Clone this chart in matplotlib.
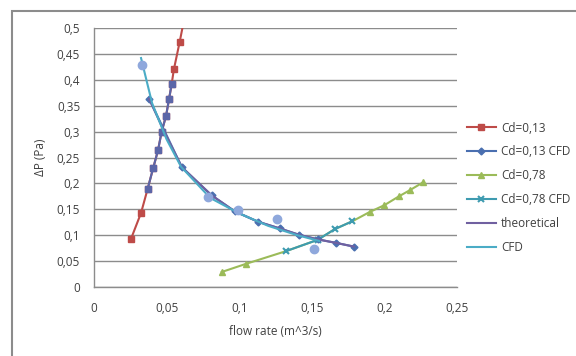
import matplotlib
matplotlib.use("Agg")
import matplotlib.pyplot as plt
from matplotlib.patches import Rectangle

# ---- data ----
cd013_x = [0.0255, 0.0324, 0.0370, 0.0407, 0.0441, 0.0466, 0.0496, 0.0517, 0.0535, 0.0550, 0.0590, 0.0630]
cd013_y = [0.093, 0.143, 0.190, 0.229, 0.264, 0.300, 0.330, 0.363, 0.392, 0.420, 0.473, 0.530]

sq_x = [0.0370, 0.0407, 0.0441, 0.0466, 0.0496, 0.0517, 0.0535]
sq_y = [0.190, 0.229, 0.264, 0.300, 0.330, 0.363, 0.392]

cd013cfd_x = [0.0380, 0.0606, 0.0810, 0.0970, 0.1130, 0.1280, 0.1410, 0.1540, 0.1670, 0.1790]
cd013cfd_y = [0.363, 0.231, 0.177, 0.146, 0.126, 0.113, 0.101, 0.092, 0.085, 0.078]

cd078_x = [0.0880, 0.1050, 0.1320, 0.1540, 0.1660, 0.1780, 0.1900, 0.2000, 0.2100, 0.2176, 0.2266]
cd078_y = [0.029, 0.045, 0.069, 0.091, 0.112, 0.127, 0.145, 0.158, 0.175, 0.187, 0.202]
cd078_shown = [0, 1, 6, 7, 8, 9, 10]

cd078cfd_x = [0.1320, 0.1540, 0.1660, 0.1780]
cd078cfd_y = [0.069, 0.091, 0.112, 0.127]

theo_x = [0.0380, 0.0500, 0.0606, 0.0810, 0.0970, 0.1130, 0.1280, 0.1410, 0.1540, 0.1670, 0.1790]
theo_y = [0.363, 0.290, 0.231, 0.177, 0.146, 0.126, 0.113, 0.101, 0.092, 0.085, 0.078]

cfd_x = [0.0324, 0.0400, 0.0500, 0.0600, 0.0800, 0.1000, 0.1200, 0.1400, 0.1550]
cfd_y = [0.442, 0.355, 0.285, 0.232, 0.172, 0.142, 0.118, 0.100, 0.089]

pts_x = [0.0328, 0.0786, 0.0990, 0.1260, 0.1515]
pts_y = [0.4286, 0.174, 0.149, 0.131, 0.074]

xticks = [0, 0.05, 0.1, 0.15, 0.2, 0.25]
yticks = [0, 0.05, 0.1, 0.15, 0.2, 0.25, 0.3, 0.35, 0.4, 0.45, 0.5]

def fmt(v):
    return ("%g" % v).replace(".", ",")

plt.rcParams['font.family'] = ['Open Sans', 'DejaVu Sans']
FS = 8.5

fig = plt.figure(figsize=(5.76, 3.56), dpi=100)
fig.patch.set_facecolor("white")
# outer chart border (top and left visible)
fig.patches.append(Rectangle((12 / 576, -0.2), 1.2, 1 - 11 / 356 + 0.2,
                             transform=fig.transFigure, fill=False,
                             edgecolor="#8c8c8c", linewidth=1.5))

ax = fig.add_axes([94 / 576, 1 - 287 / 356, (457 - 94) / 576, (287 - 28) / 356])
ax.set_xlim(0, 0.25)
ax.set_ylim(0, 0.5)
ax.set_xticks(xticks)
ax.set_yticks(yticks)
ax.set_xticklabels([fmt(v) for v in xticks])
ax.set_yticklabels([fmt(v) for v in yticks])
ax.tick_params(length=0, labelsize=FS, colors="#404040", pad=10)
ax.tick_params(axis="x", pad=11)
ax.yaxis.grid(True, color="#8c8c8c", linewidth=1.0)
ax.set_axisbelow(True)
for s in ["top", "right"]:
    ax.spines[s].set_visible(False)
for s in ["left", "bottom"]:
    ax.spines[s].set_color("#8c8c8c")
    ax.spines[s].set_linewidth(1.0)

red = "#be4b48"
blue = "#4a6fb0"
green = "#9bbb59"
teal = "#3e9bb0"
purple = "#7060a0"
cfdc = "#4bacc6"
lightblue = "#8fa8dc"

ax.plot(cd078_x, cd078_y, color=green, marker="^", markersize=5, linewidth=1.5,
        markevery=cd078_shown, label="Cd=0,78", zorder=3)
ax.plot(cd078cfd_x, cd078cfd_y, color=teal, marker="x", markersize=5, markeredgewidth=1.5,
        linewidth=1.5, label="Cd=0,78 CFD", zorder=4)
ax.plot(cd013_x, cd013_y, color=red, marker="s", markersize=5, linewidth=1.5,
        label="Cd=0,13", zorder=3)
ax.plot(sq_x, sq_y, color="#5b66a8", marker="s", markersize=5, linewidth=1.5, zorder=4)
ax.plot(cd013cfd_x, cd013cfd_y, color=blue, marker="D", markersize=3.5, linewidth=1.5,
        label="Cd=0,13 CFD", zorder=4)
ax.plot(theo_x, theo_y, color=purple, linewidth=1.5, label="theoretical", zorder=5)
ax.plot(cfd_x, cfd_y, color=cfdc, linewidth=1.5, label="CFD", zorder=5)
ax.plot(pts_x, pts_y, linestyle="none", marker="o", markersize=6, color=lightblue, zorder=6)

ax.set_xlabel("flow rate (m^3/s)", fontsize=FS, color="#404040", labelpad=7)
ax.set_ylabel("ΔP (Pa)", fontsize=FS, color="#404040", labelpad=7)

handles, labels = ax.get_legend_handles_labels()
order = ["Cd=0,13", "Cd=0,13 CFD", "Cd=0,78", "Cd=0,78 CFD", "theoretical", "CFD"]
hmap = dict(zip(labels, handles))
leg = fig.legend([hmap[o] for o in order], order, loc="upper left",
                 bbox_to_anchor=(456 / 576, 1 - 111 / 356), frameon=False,
                 fontsize=FS, handlelength=2.5, labelspacing=0.92, handletextpad=0.4)
for t in leg.get_texts():
    t.set_color("#404040")

fig.savefig("out.png", dpi=100)
